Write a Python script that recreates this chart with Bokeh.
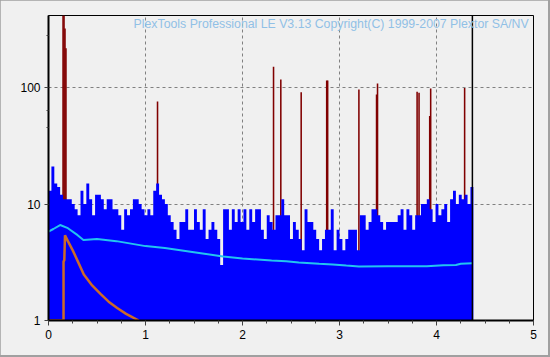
from bokeh.plotting import figure
from bokeh.models import Range1d, FixedTicker, NumeralTickFormatter, Span, Label
from bokeh.embed import file_html
from bokeh.resources import INLINE

# ---- data ----
BIN_WIDTH = 0.03
blue_vals = [13, 21, 15, 14, 12, 11, 11, 11, 10, 9, 8, 13, 10, 15, 11, 8, 12, 12, 11, 9,
             11, 11, 9, 9, 8, 6, 9, 8, 9, 11, 11, 10, 9, 8, 9, 8, 13, 15, 12, 11,
             10, 8, 7, 6, 5, 7, 7, 9, 6, 6, 9, 7, 6, 9, 5, 6, 7, 6, 5, 3,
             9, 9, 6, 9, 7, 9, 7, 9, 6, 9, 7, 9, 9, 6, 5, 8, 7, 6, 8, 8,
             11, 8, 8, 5, 7, 6, 5, 4, 9, 7, 7, 6, 5, 4, 5, 6, 6, 9, 4, 6,
             5, 4, 5, 6, 6, 6, 4, 8, 8, 6, 7, 9, 9, 8, 7, 6, 7, 7, 7, 7,
             8, 9, 6, 9, 8, 6, 8, 8, 10, 10, 11, 9, 7, 10, 8, 9, 10, 7, 11, 13,
             10, 12, 11, 12, 10, 14]

spike_x = [0.150, 0.160, 0.170, 0.180, 1.124, 2.320, 2.395, 2.605, 2.868, 2.878,
           3.200, 3.382, 3.392, 3.800, 3.820, 3.930, 3.940, 4.290]
spike_top = [1000, 1000, 321, 217, 76, 151, 117, 91, 115, 115,
             96, 87, 108, 92, 90, 57, 98, 99]

avg_x = [0, 0.05, 0.12, 0.2, 0.3, 0.36, 0.5, 0.7, 1.0, 1.2, 1.5, 1.8, 2.0, 2.3, 2.45,
         2.58, 2.79, 2.93, 3.07, 3.2, 3.5, 3.9, 4.07, 4.2, 4.25, 4.37]
avg_y = [5.8, 6.1, 6.6, 6.2, 5.4, 4.9, 5.0, 4.8, 4.35, 4.2, 3.86, 3.54, 3.4, 3.27, 3.22,
         3.15, 3.07, 3.03, 2.96, 2.91, 2.92, 2.92, 2.98, 3.0, 3.07, 3.1]

orange_x = [0, 0.155, 0.155, 0.163, 0.17, 0.2, 0.25, 0.3, 0.364, 0.45, 0.536, 0.62, 0.708, 0.8, 0.93]
orange_y = [1, 1, 3.2, 3.3, 5.4, 4.8, 4.0, 3.25, 2.48, 2.0, 1.69, 1.45, 1.28, 1.14, 1.0]

scan_end = 4.37
x_ticks = [0, 1, 2, 3, 4, 5]
x_minor = [0.25, 0.5, 0.75, 1.25, 1.5, 1.75, 2.25, 2.5, 2.75, 3.25, 3.5, 3.75, 4.25, 4.5, 4.75]
y_ticks = [1, 10, 100]
y_minor = [45, 63, 280]
title_text = "PlexTools Professional LE V3.13 Copyright(C) 1999-2007 Plextor SA/NV"

BG = "#f0f0f0"
FONT = "Liberation Sans"

p = figure(width=548, height=355, output_backend="svg", toolbar_location=None,
           y_axis_type="log", x_range=Range1d(0, 5), y_range=Range1d(1, 415))
p.min_border_left = 48
p.min_border_right = 15
p.min_border_top = 15
p.min_border_bottom = 35
p.background_fill_color = BG
p.border_fill_color = BG
p.outline_line_color = "black"
p.outline_line_width = 1

# grid
for g in (p.xgrid, p.ygrid):
    g.grid_line_color = "#808080"
    g.grid_line_dash = "3 3"
    g.grid_line_width = 1
p.xgrid.ticker = FixedTicker(ticks=[1, 2, 3, 4])
p.ygrid.ticker = FixedTicker(ticks=[10, 100])

# axes
p.xaxis.ticker = FixedTicker(ticks=x_ticks, minor_ticks=x_minor)
p.yaxis.ticker = FixedTicker(ticks=y_ticks, minor_ticks=y_minor)
p.yaxis.formatter = NumeralTickFormatter(format="0")
for ax in (p.xaxis[0], p.yaxis[0]):
    ax.axis_line_color = "black"
    ax.axis_line_width = 2
    ax.major_tick_line_color = "#404040"
    ax.minor_tick_line_color = "#404040"
    ax.major_tick_in = 0
    ax.minor_tick_in = 0
    ax.major_label_text_font = FONT
    ax.major_label_text_font_size = "12px"
    ax.major_label_text_color = "black"
p.xaxis.major_tick_out = 5
p.xaxis.minor_tick_out = 3
p.xaxis.major_label_standoff = 4
p.yaxis.major_tick_out = 4
p.yaxis.minor_tick_out = 2
p.yaxis.major_label_standoff = 4

# spikes (behind the blue area)
p.vbar(x=spike_x, top=spike_top, bottom=0.9, width=0.016,
       fill_color="#800000", line_color=None)

# blue histogram as one stepped area (no seams between bins)
edges = [i * BIN_WIDTH for i in range(len(blue_vals) + 1)]
tops = blue_vals + [blue_vals[-1]]
p.varea_step(x=edges, y1=[0.9] * len(edges), y2=tops, step_mode="after",
             fill_color="#0000ff")

# orange curve
p.line(orange_x, orange_y, line_color="#cc6a28", line_width=2.5)
# average line
p.line(avg_x, avg_y, line_color="#22c4f0", line_width=2)

p.add_layout(Span(location=scan_end, dimension="height", line_color="black", line_width=1.5))

p.add_layout(Label(x=4.95, y=354, text=title_text, text_align="right",
                   text_baseline="middle", text_font=FONT, text_font_size="12.3px",
                   text_color="#90c0e6"))

html = file_html(p, INLINE)
html = html.replace("<head>", "<head><style>html,body{background:#a0a0a0;}</style>", 1)
open("out.html", "w").write(html)
